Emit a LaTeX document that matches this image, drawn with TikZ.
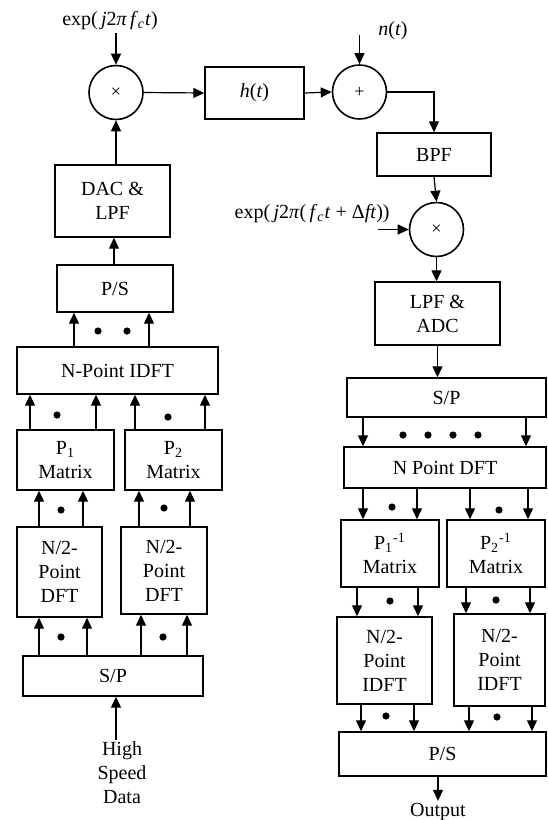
\documentclass[tikz,border=0pt]{standalone}
\usepackage{fontspec}
\setmainfont{Liberation Serif}
\usetikzlibrary{positioning, arrows.meta}

\begin{document}
\begin{tikzpicture}[
        x=0.5pt, y=-0.5pt,
        % block style (width, height)
        bx/.style 2 args={rectangle, draw, line width=0.7pt, fill=white, align=center, inner sep=1pt, minimum width=#1, minimum height=#2},
        % mixer / adder style
        op/.style={circle, draw, line width=0.8pt, minimum size=27pt, inner sep=0pt, font=\small},
        % arrow style
        arrow/.style={-{Triangle[length=5.5pt, width=5pt]}, line width=0.6pt},
        % free text style
        lbl/.style={align=center, inner sep=1pt},
        % dot style
        dot/.style={radius=1.8pt}
    ]
    \useasboundingbox (0,0) rectangle (547,820);

    % transmitter (left column)
    \node[op] (mixL) at (116,92.5) {×};
    \node[bx={49.5pt}{26pt}] (h) at (254.5,93) {\textit{h}(\textit{t})};
    \node[bx={57.5pt}{36pt}] (dac) at (112.5,201) {DAC \&\\LPF};
    \node[bx={58pt}{23.5pt}] (psL) at (115,288.5) {P/S};
    \node[bx={100.5pt}{23.5pt}] (idftL) at (117.5,370.5) {N-Point IDFT};
    \node[bx={48.5pt}{30pt}] (p1) at (65.5,460) {P\textsubscript{1}\\Matrix};
    \node[bx={48.5pt}{30pt}] (p2) at (173.5,460) {P\textsubscript{2}\\Matrix};
    \node[bx={42.5pt}{45pt}] (dft1) at (59.5,572) {N/2-\\Point\\DFT};
    \node[bx={43pt}{43.5pt}] (dft2) at (164,570.5) {N/2-\\Point\\DFT};
    \node[bx={90pt}{20pt}] (spL) at (113,676) {S/P};

    % receiver (right column)
    \node[op] (add) at (359.5,92) {+};
    \node[bx={57pt}{21.5pt}] (bpf) at (434,154.5) {BPF};
    \node[op] (mixR) at (436.5,229.5) {×};
    \node[bx={62.5pt}{31.5pt}] (lpf) at (437.5,313.5) {LPF \&\\ADC};
    \node[bx={99.5pt}{19.5pt}] (spR) at (446.5,397.5) {S/P};
    \node[bx={101pt}{20.5pt}] (ndft) at (445,467.5) {N Point DFT};
    \node[bx={49pt}{33.5pt}] (pinv1) at (390,553.5) {P\textsubscript{1}\textsuperscript{-1}\\Matrix};
    \node[bx={49pt}{33.5pt}] (pinv2) at (496,553.5) {P\textsubscript{2}\textsuperscript{-1}\\Matrix};
    \node[bx={47.5pt}{43.5pt}] (idft1) at (384.5,660.5) {N/2-\\Point\\IDFT};
    \node[bx={45.5pt}{46pt}] (idft2) at (499.5,660) {N/2-\\Point\\IDFT};
    \node[bx={103.5pt}{22pt}] (psR) at (442.5,754) {P/S};

    % inputs and outputs
    \node[lbl] (expL) at (110,21) {exp(\,\textit{j}2\textit{π\,f}\textsubscript{\textit{c}}\textit{t})};
    \node[lbl] (nt) at (393,31) {\textit{n}(\textit{t})};
    \coordinate (ntin) at (359.5,35);
    \node[lbl, anchor=east] (expR) at (392,214) {exp(\,\textit{j}2\textit{π}(\,\textit{f}\textsubscript{\textit{c}}\textit{t} + Δ\textit{ft}))};
    \coordinate (expRin) at (378,229.5);
    \node[lbl] (hsd) at (122,773) {High\\Speed\\Data};
    \node[lbl] (out) at (438,812) {Output};

    % transmitter arrows
    \draw[arrow] (hsd.north -| 116,0) -- (spL.south -| 116,0);
    \foreach \x in {39,87} \draw[arrow] (spL.north -| \x,0) -- (dft1.south -| \x,0);
    \foreach \x in {141,187} \draw[arrow] (spL.north -| \x,0) -- (dft2.south -| \x,0);
    \foreach \x in {39,83} \draw[arrow] (dft1.north -| \x,0) -- (p1.south -| \x,0);
    \foreach \x in {139,190} \draw[arrow] (dft2.north -| \x,0) -- (p2.south -| \x,0);
    \foreach \x in {30,96} \draw[arrow] (p1.north -| \x,0) -- (idftL.south -| \x,0);
    \foreach \x in {135,205} \draw[arrow] (p2.north -| \x,0) -- (idftL.south -| \x,0);
    \foreach \x in {74,149} \draw[arrow] (idftL.north -| \x,0) -- (psL.south -| \x,0);
    \draw[arrow] (psL.north -| 114,0) -- (dac.south -| 114,0);
    \draw[arrow] (dac.north -| mixL.south) -- (mixL.south);
    \draw[arrow] (expL.south -| mixL.north) -- (mixL.north);
    \draw[arrow] (mixL.east) -- (h.west);

    % channel and receiver arrows
    \draw[arrow] (h.east) -- (add.west);
    \draw[arrow] (ntin) -- (add.north);
    \draw[arrow] (add.east) -| (bpf.north);
    \draw[arrow] (bpf.south) -- (mixR.north);
    \draw[arrow] (expRin) -- (mixR.west);
    \draw[arrow] (mixR.south) -- (lpf.north -| mixR.south);
    \draw[arrow] (lpf.south) -- (spR.north -| lpf.south);
    \foreach \x in {363,526} \draw[arrow] (spR.south -| \x,0) -- (ndft.north -| \x,0);
    \foreach \x in {363,417} \draw[arrow] (ndft.south -| \x,0) -- (pinv1.north -| \x,0);
    \foreach \x in {470,528} \draw[arrow] (ndft.south -| \x,0) -- (pinv2.north -| \x,0);
    \foreach \x in {357,418} \draw[arrow] (pinv1.south -| \x,0) -- (idft1.north -| \x,0);
    \foreach \x in {466,530} \draw[arrow] (pinv2.south -| \x,0) -- (idft2.north -| \x,0);
    \foreach \x in {361,414} \draw[arrow] (idft1.south -| \x,0) -- (psR.north -| \x,0);
    \foreach \x in {469,532} \draw[arrow] (idft2.south -| \x,0) -- (psR.north -| \x,0);
    \draw[arrow] (psR.south -| out.north) -- (out.north);

    % dots between parallel lines
    \foreach \p in {(98,331),(127,331),(57,415),(168,417),(61,510),(164,508),(61,637),(163,637),
                    (403,435),(428,435),(453,435),(478,435),(392,507),(499,510),(390,601),(496,600),(386,716),(497,717)}
        \fill[dot] \p circle;

\end{tikzpicture}
\end{document}
